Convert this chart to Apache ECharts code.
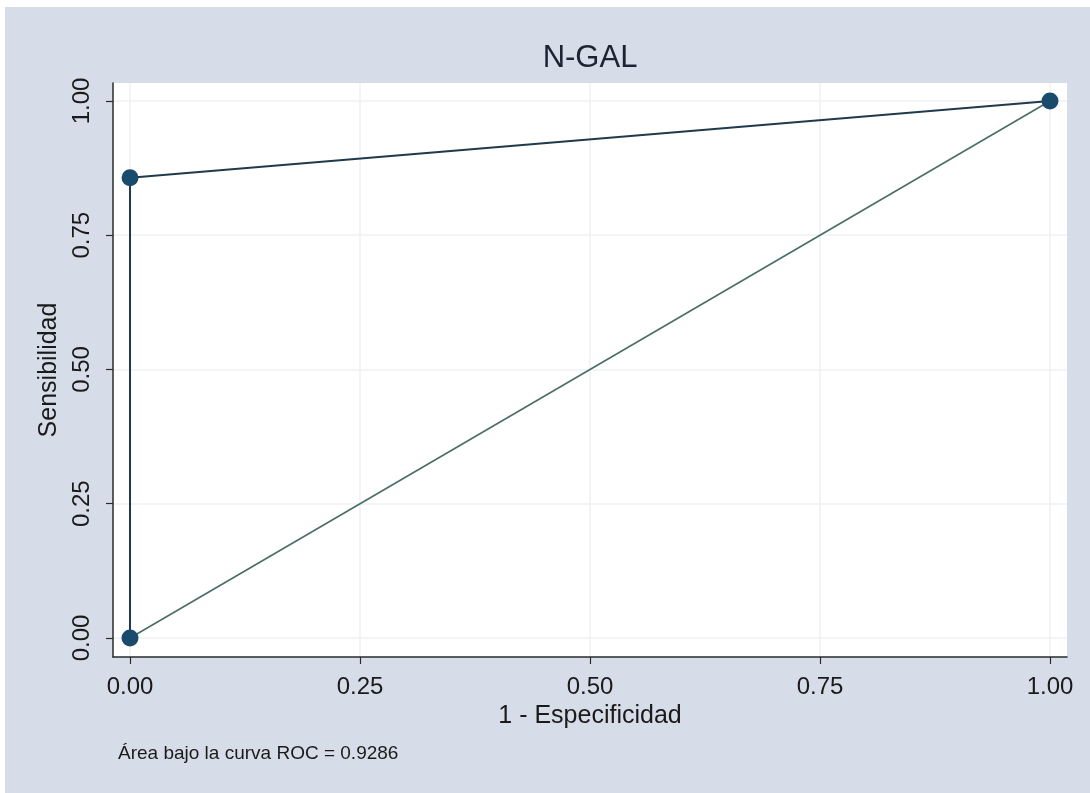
<!DOCTYPE html>
<html>
<head>
<meta charset="utf-8">
<script src="https://cdn.jsdelivr.net/npm/echarts@6/dist/echarts.min.js"></script>
<style>
html,body{margin:0;padding:0;background:#ffffff;}
#chart{width:1090px;height:793px;}
</style>
</head>
<body>
<div id="chart"></div>
<script>
// ROC curve points (1 - specificity, sensitivity)
const rocX = [0, 0, 1];
const rocY = [0, 0.857, 1];
// reference diagonal
const refX = [0, 1];
const refY = [0, 1];
// tick values / labels
const tickValues = [0, 0.25, 0.5, 0.75, 1];
const tickLabels = ['0.00', '0.25', '0.50', '0.75', '1.00'];
const titleText = 'N-GAL';
const xName = '1 - Especificidad';
const yName = 'Sensibilidad';
const noteText = 'Área bajo la curva ROC = 0.9286';

const FONT = '"Liberation Sans", Arial, Helvetica, sans-serif';
const labelFmt = v => {
  const i = tickValues.findIndex(t => Math.abs(t - v) < 1e-9);
  return i >= 0 ? tickLabels[i] : '';
};

const chart = echarts.init(document.getElementById('chart'), null, {renderer: 'canvas'});
const axisCommon = {
  type: 'value',
  nameLocation: 'middle',
  nameTextStyle: {fontFamily: FONT, fontSize: 25, color: '#1a1a1a'},
  axisLine: {show: true, onZero: false, lineStyle: {color: '#2a2a2a', width: 1.5}},
  axisTick: {show: true, inside: false, length: 7, customValues: tickValues, lineStyle: {color: '#2a2a2a', width: 1.2}},
  axisLabel: {customValues: tickValues, formatter: labelFmt, fontFamily: FONT, fontSize: 24, color: '#1a1a1a'},
  splitLine: {show: true, lineStyle: {color: '#eef1f3', width: 1.5}}
};

chart.setOption({
  backgroundColor: '#ffffff',
  animation: false,
  title: {
    text: titleText, left: 590, top: 43, textAlign: 'center', padding: 0,
    textStyle: {fontFamily: FONT, fontSize: 31, fontWeight: 'normal', color: '#1c2433'}
  },
  graphic: [
    {type: 'rect', left: 5, top: 7, z: -10, silent: true,
     shape: {width: 1085, height: 786}, style: {fill: '#d7dde8'}},
    {type: 'text', left: 118, top: 744, silent: true,
     style: {text: noteText, font: '19px ' + FONT, fill: '#1a1a1a'}}
  ],
  grid: {
    left: 113, right: 23, top: 83, bottom: 136,
    show: true, backgroundColor: '#ffffff', borderWidth: 0,
    containLabel: false
  },
  xAxis: Object.assign({}, axisCommon, {
    min: -0.0185, max: 1.0185,
    name: xName, nameGap: 46,
    axisLabel: Object.assign({}, axisCommon.axisLabel, {margin: 18})
  }),
  yAxis: Object.assign({}, axisCommon, {
    min: -0.0354, max: 1.0335,
    name: yName, nameGap: 48, nameRotate: 90,
    axisLabel: Object.assign({}, axisCommon.axisLabel, {margin: 19, rotate: 90})
  }),
  series: [
    {
      name: 'ref', type: 'line',
      data: refX.map((x, i) => [x, refY[i]]),
      showSymbol: false, symbol: 'none',
      lineStyle: {color: '#4b6d66', width: 1.6},
      z: 2
    },
    {
      name: 'roc', type: 'line',
      data: rocX.map((x, i) => [x, rocY[i]]),
      symbol: 'circle', symbolSize: 17, showSymbol: true,
      itemStyle: {color: '#1b4b6c'},
      lineStyle: {color: '#22394a', width: 2},
      z: 3
    }
  ]
});
</script>
</body>
</html>
